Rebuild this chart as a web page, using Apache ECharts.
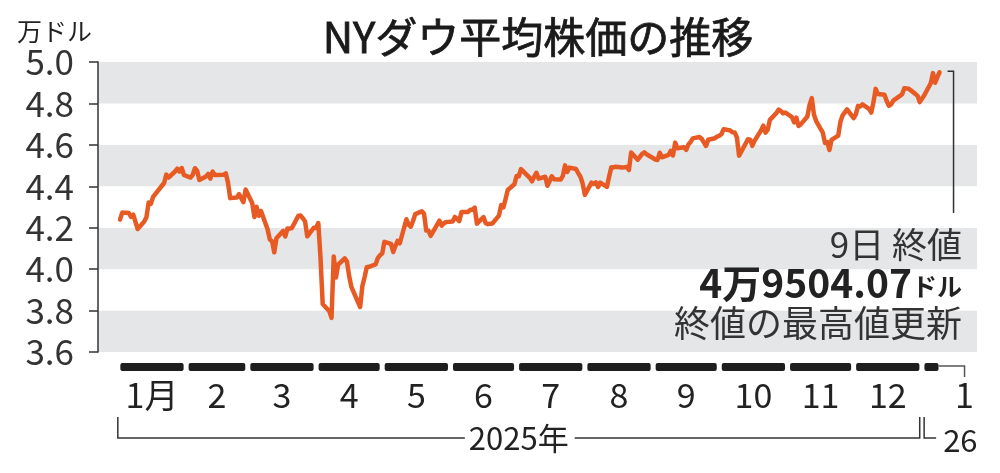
<!DOCTYPE html>
<html><head><meta charset="utf-8">
<script src="https://cdn.jsdelivr.net/npm/echarts@6/dist/echarts.min.js"></script>
<style>html,body{margin:0;padding:0;background:#fff}#c{width:1000px;height:473px}</style>
</head><body><div id="c"></div>
<script>
// Daily closes of the Dow (dollars)
const dates = [
'2025-01-02','2025-01-03','2025-01-06','2025-01-07','2025-01-08','2025-01-10','2025-01-13','2025-01-14','2025-01-15','2025-01-16','2025-01-17','2025-01-21','2025-01-22','2025-01-23','2025-01-24','2025-01-27','2025-01-28','2025-01-29','2025-01-30','2025-01-31',
'2025-02-03','2025-02-04','2025-02-05','2025-02-06','2025-02-07','2025-02-10','2025-02-11','2025-02-12','2025-02-13','2025-02-14','2025-02-18','2025-02-19','2025-02-20','2025-02-21','2025-02-24','2025-02-25','2025-02-26','2025-02-27','2025-02-28',
'2025-03-03','2025-03-04','2025-03-05','2025-03-06','2025-03-07','2025-03-10','2025-03-11','2025-03-12','2025-03-13','2025-03-14','2025-03-17','2025-03-18','2025-03-19','2025-03-20','2025-03-21','2025-03-24','2025-03-25','2025-03-26','2025-03-27','2025-03-28','2025-03-31',
'2025-04-01','2025-04-02','2025-04-03','2025-04-04','2025-04-07','2025-04-08','2025-04-09','2025-04-10','2025-04-11','2025-04-14','2025-04-15','2025-04-16','2025-04-17','2025-04-21','2025-04-22','2025-04-23','2025-04-24','2025-04-25','2025-04-28','2025-04-29','2025-04-30',
'2025-05-01','2025-05-02','2025-05-05','2025-05-06','2025-05-07','2025-05-08','2025-05-09','2025-05-12','2025-05-13','2025-05-14','2025-05-15','2025-05-16','2025-05-19','2025-05-20','2025-05-21','2025-05-22','2025-05-23','2025-05-27','2025-05-28','2025-05-29','2025-05-30',
'2025-06-02','2025-06-03','2025-06-04','2025-06-05','2025-06-06','2025-06-09','2025-06-10','2025-06-11','2025-06-12','2025-06-13','2025-06-16','2025-06-17','2025-06-18','2025-06-20','2025-06-23','2025-06-24','2025-06-25','2025-06-26','2025-06-27','2025-06-30',
'2025-07-01','2025-07-02','2025-07-03','2025-07-07','2025-07-08','2025-07-09','2025-07-10','2025-07-11','2025-07-14','2025-07-15','2025-07-16','2025-07-17','2025-07-18','2025-07-21','2025-07-22','2025-07-23','2025-07-24','2025-07-25','2025-07-28','2025-07-29','2025-07-30','2025-07-31',
'2025-08-01','2025-08-04','2025-08-05','2025-08-06','2025-08-07','2025-08-08','2025-08-11','2025-08-12','2025-08-13','2025-08-14','2025-08-15','2025-08-18','2025-08-19','2025-08-20','2025-08-21','2025-08-22','2025-08-25','2025-08-26','2025-08-27','2025-08-28','2025-08-29',
'2025-09-02','2025-09-03','2025-09-04','2025-09-05','2025-09-08','2025-09-09','2025-09-10','2025-09-11','2025-09-12','2025-09-15','2025-09-16','2025-09-17','2025-09-18','2025-09-19','2025-09-22','2025-09-23','2025-09-24','2025-09-25','2025-09-26','2025-09-29','2025-09-30',
'2025-10-01','2025-10-02','2025-10-03','2025-10-06','2025-10-07','2025-10-08','2025-10-09','2025-10-10','2025-10-13','2025-10-14','2025-10-15','2025-10-16','2025-10-17','2025-10-20','2025-10-21','2025-10-22','2025-10-23','2025-10-24','2025-10-27','2025-10-28','2025-10-29','2025-10-30','2025-10-31',
'2025-11-03','2025-11-04','2025-11-05','2025-11-06','2025-11-07','2025-11-10','2025-11-11','2025-11-12','2025-11-13','2025-11-14','2025-11-17','2025-11-18','2025-11-19','2025-11-20','2025-11-21','2025-11-24','2025-11-25','2025-11-26','2025-11-28',
'2025-12-01','2025-12-02','2025-12-03','2025-12-04','2025-12-05','2025-12-08','2025-12-09','2025-12-10','2025-12-11','2025-12-12','2025-12-15','2025-12-16','2025-12-17','2025-12-18','2025-12-19','2025-12-22','2025-12-23','2025-12-24','2025-12-26','2025-12-29','2025-12-30','2025-12-31',
'2026-01-02','2026-01-05','2026-01-06','2026-01-07','2026-01-08','2026-01-09'
];
const closes = [
42392,42732,42706,42528,42635,41938,42297,42518,43221,43153,43488,44025,44157,44565,44424,44714,44850,44714,44882,44545,
44421,44556,44873,44747,44303,44470,44593,44368,44711,44546,44556,44627,44176,43428,43461,43621,43433,43239,43841,
43191,42520,43006,42579,42802,41912,41433,41350,40813,41488,41841,41581,41965,41953,41985,42583,42587,42455,42300,41584,42002,
41989,42226,40546,38315,37966,37646,40608,39594,40213,40525,40369,39669,39142,38170,39187,39607,40093,40114,40228,40528,40669,
40753,41317,41219,40829,41114,41368,41249,42410,42140,42051,42323,42655,42792,42677,41860,41859,41603,42343,42098,42216,42270,
42305,42519,42428,42320,42763,42762,42867,42865,42968,42198,42515,42215,42172,42207,42582,43089,42982,43387,43819,44095,
44495,44485,44829,44406,44241,44458,44651,44371,44460,44023,44254,44484,44342,44323,44502,45010,44694,44902,44838,44633,44461,44131,
43589,44174,44112,44193,43969,44176,43975,44459,44922,44911,44946,44912,44922,44938,44786,45632,45282,45418,45565,45637,45545,
45296,45271,45621,45401,45515,45711,45490,46108,45834,45883,45758,46018,46142,46315,46382,46292,46121,45947,46247,46316,46398,
46441,46519,46758,46695,46603,46602,46358,45480,46068,46270,46253,45952,46191,46707,46925,46591,46735,47207,47545,47706,47632,47522,47563,
47337,47085,47311,46912,46987,47369,47928,48254,47457,47147,46590,46092,46139,45752,46245,46448,47112,47427,47716,
47289,47474,47883,47851,47955,47739,47560,48057,48704,48458,48417,48114,47886,47951,48135,48362,48442,48731,48711,48461,48367,48063,
48382,48977,49462,48996,49266,49504
];
const monthStarts = ['2025-01-01','2025-02-01','2025-03-01','2025-04-01','2025-05-01','2025-06-01','2025-07-01','2025-08-01','2025-09-01','2025-10-01','2025-11-01','2025-12-01','2026-01-01'];
const monthLabels = ['1月','2','3','4','5','6','7','8','9','10','11','12','1'];
const yearLabels = ['2025年','26'];
const yearStarts = ['2025-01-01','2026-01-02'];
const yearEnds = ['2025-12-31','2026-01-09'];
const yMin = 3.6, yMax = 5.0, yStep = 0.2;
const titleText = 'NYダウ平均株価の推移';
const unitText = '万ドル';
const noteLines = ['9日 終値', '4万9504.07', 'ドル', '終値の最高値更新'];

const FONT = '"Noto Sans CJK JP", sans-serif';
const seriesData = dates.map((d, i) => [d, closes[i] / 10000]);
const lastDate = dates[dates.length - 1];

const ctx = document.createElement('canvas').getContext('2d');
function textW(t, size) { ctx.font = size + 'px ' + FONT; return ctx.measureText(t).width; }

const chart = echarts.init(document.getElementById('c'), null, {renderer: 'canvas'});
const option = {
  backgroundColor: '#fff',
  animation: false,
  grid: {left: 98, right: 23, top: 62, bottom: 121},
  xAxis: {
    type: 'time', min: '2024-12-23', max: '2026-01-26',
    axisLine: {show: false}, axisTick: {show: false}, axisLabel: {show: false}, splitLine: {show: false}
  },
  yAxis: {
    type: 'value', min: yMin, max: yMax, interval: yStep,
    axisLine: {show: true, lineStyle: {color: '#333', width: 1.5}},
    axisTick: {show: true, length: 9, lineStyle: {color: '#333', width: 1.5}},
    axisLabel: {margin: 24, fontSize: 35, fontFamily: FONT, color: '#333', formatter: v => v.toFixed(1)},
    splitLine: {show: false},
    splitArea: {show: true, areaStyle: {color: ['#e4e6e7', '#ffffff']}}
  },
  series: [
    {
      type: 'line', data: seriesData, showSymbol: false, symbol: 'none',
      lineStyle: {color: '#e85a24', width: 4.5, join: 'round', cap: 'round'}, z: 5
    },
    {
      type: 'custom', clip: false, silent: true, z: 3,
      encode: {x: [0, 1], y: 2},
      data: monthStarts.map((s, i) => [s, i < monthStarts.length - 1 ? monthStarts[i + 1] : lastDate, yMin]),
      renderItem: function (params, api) {
        const i = params.dataIndex;
        const last = i === monthStarts.length - 1;
        const p0 = api.coord([api.value(0), api.value(2)]);
        const p1 = api.coord([api.value(1), api.value(2)]);
        const x0 = p0[0] + 2.5, x1 = p1[0] - (last ? 1 : 2.5);
        const y = p0[1] + 11;
        const children = [
          {type: 'rect', shape: {x: x0, y: y, width: x1 - x0, height: 8, r: 2}, style: {fill: '#1e1e1e'}}
        ];
        let lx = (x0 + x1) / 2;
        if (last) {
          lx = x1 + 26;
          children.push({type: 'polyline', shape: {points: [[x1, y + 3], [lx, y + 3], [lx, y + 14]]},
            style: {stroke: '#555', lineWidth: 1.5, fill: null}});
        }
        children.push({type: 'text', style: {text: monthLabels[i], x: lx, y: p0[1] + 43, align: 'center',
          verticalAlign: 'middle', fontSize: 34, fontFamily: FONT, fill: '#222'}});
        return {type: 'group', children: children};
      }
    },
    {
      type: 'custom', clip: false, silent: true, z: 3,
      encode: {x: [0, 1], y: 2},
      data: yearStarts.map((s, i) => [s, yearEnds[i], yMin]),
      renderItem: function (params, api) {
        const i = params.dataIndex;
        const p0 = api.coord([api.value(0), api.value(2)]);
        const p1 = api.coord([api.value(1), api.value(2)]);
        const yTop = p0[1] + 65, yBot = p0[1] + 86;
        const label = yearLabels[i];
        const fs = 31;
        const w = textW(label, fs);
        const children = [];
        const ls = {stroke: '#333', lineWidth: 1.5, fill: null};
        if (p1[0] - p0[0] > w + 40) {
          const cx = (p0[0] + p1[0]) / 2;
          children.push({type: 'polyline', shape: {points: [[p0[0], yTop], [p0[0], yBot], [cx - w / 2 - 4, yBot]]}, style: ls});
          children.push({type: 'polyline', shape: {points: [[cx + w / 2 + 6, yBot], [p1[0], yBot], [p1[0], yTop]]}, style: ls});
          children.push({type: 'text', style: {text: label, x: cx, y: yBot, align: 'center', verticalAlign: 'middle',
            fontSize: fs, fontFamily: FONT, fill: '#222'}});
        } else {
          children.push({type: 'polyline', shape: {points: [[p0[0], yTop], [p0[0], yBot], [p0[0] + 12, yBot]]}, style: ls});
          children.push({type: 'text', style: {text: label, x: p0[0] + 19, y: yBot + 2, align: 'left', verticalAlign: 'middle',
            fontSize: fs, fontFamily: FONT, fill: '#222'}});
        }
        return {type: 'group', children: children};
      }
    }
  ]
};
chart.setOption(option);

const pl = chart.convertToPixel({gridIndex: 0}, [lastDate, closes[closes.length - 1] / 10000]);
const bx = pl[0] + 14;
chart.setOption({
  graphic: [
    {type: 'text', x: 538, y: 37, style: {text: titleText, align: 'center', verticalAlign: 'middle',
      fontSize: 42, fontWeight: 'normal', fontFamily: FONT, fill: '#1a1a1a', stroke: '#1a1a1a', lineWidth: 0.8}},
    {type: 'text', x: 17, y: 31, style: {text: unitText, align: 'left', verticalAlign: 'middle',
      fontSize: 25, fontFamily: FONT, fill: '#222'}},
    {type: 'polyline', shape: {points: [[pl[0] + 8, pl[1] - 1], [bx, pl[1] - 1], [bx, 213]]},
      style: {stroke: '#333', lineWidth: 1.5, fill: null}},
    {type: 'text', x: 962, y: 245, style: {text: noteLines[0], align: 'right', verticalAlign: 'middle',
      fontSize: 35, fontFamily: FONT, fill: '#333'}},
    {type: 'text', x: 962, y: 283, style: {text: '{a|' + noteLines[1] + '}{b|' + noteLines[2] + '}', align: 'right', verticalAlign: 'middle',
      rich: {a: {fontSize: 39, fontWeight: 'bold', fontFamily: FONT, fill: '#222'},
             b: {fontSize: 25, fontWeight: 'bold', fontFamily: FONT, fill: '#222', padding: [6, 0, 0, 0]}}}},
    {type: 'text', x: 962, y: 323, style: {text: noteLines[3], align: 'right', verticalAlign: 'middle',
      fontSize: 36, fontFamily: FONT, fill: '#333'}}
  ]
});
</script></body></html>
